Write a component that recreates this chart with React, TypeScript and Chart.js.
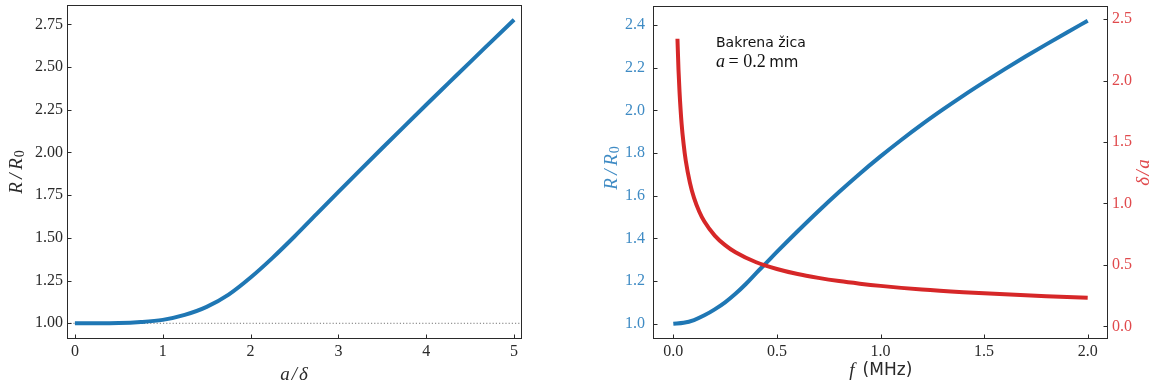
import React, { useEffect, useRef } from "react";
import { Chart, registerables } from "chart.js";

Chart.register(...registerables);

// ---------- Data ----------
// Left panel: R/R0 as a function of a/δ
const ratioAD = [0, 0.25, 0.5, 0.75, 1.0, 1.25, 1.5, 1.75, 2.0, 2.25, 2.5, 2.75, 3.0, 3.25, 3.5, 3.75, 4.0, 4.25, 4.5, 4.75, 5.0];
const resistanceVsRatio = [1.0, 1.0, 1.001, 1.007, 1.02, 1.049, 1.096, 1.168, 1.268, 1.383, 1.508, 1.639, 1.769, 1.898, 2.026, 2.153, 2.279, 2.404, 2.529, 2.653, 2.777];
const refLineX = [-0.09, 5.09];
const refLineY = [1, 1];

// Right panel: R/R0 (blue) and δ/a (red) as functions of f in MHz
const freqBlue = [0, 0.05, 0.1, 0.15, 0.2, 0.25, 0.3, 0.35, 0.4, 0.45, 0.5, 0.6, 0.7, 0.8, 0.9, 1.0, 1.1, 1.2, 1.3, 1.4, 1.5, 1.6, 1.7, 1.8, 1.9, 2.0];
const resistanceVsFreq = [1.0, 1.004, 1.017, 1.039, 1.067, 1.1, 1.14, 1.186, 1.237, 1.286, 1.336, 1.433, 1.527, 1.617, 1.703, 1.784, 1.861, 1.934, 2.003, 2.069, 2.132, 2.193, 2.252, 2.309, 2.365, 2.42];
const freqRed = [0.02, 0.025, 0.03, 0.04, 0.05, 0.06, 0.08, 0.1, 0.125, 0.15, 0.2, 0.25, 0.3, 0.4, 0.5, 0.6, 0.7, 0.8, 0.9, 1.0, 1.2, 1.4, 1.6, 1.8, 2.0];
const skinRatio = [2.34, 2.09, 1.91, 1.65, 1.48, 1.35, 1.17, 1.045, 0.935, 0.853, 0.739, 0.661, 0.603, 0.522, 0.467, 0.426, 0.395, 0.369, 0.348, 0.33, 0.301, 0.279, 0.261, 0.246, 0.233];

// Tick values
const leftXTicks = [0, 1, 2, 3, 4, 5];
const leftYTicks = [1.0, 1.25, 1.5, 1.75, 2.0, 2.25, 2.5, 2.75];
const rightXTicks = [0, 0.5, 1.0, 1.5, 2.0];
const rightY1Ticks = [1.0, 1.2, 1.4, 1.6, 1.8, 2.0, 2.2, 2.4];
const rightY2Ticks = [0, 0.5, 1.0, 1.5, 2.0, 2.5];

// Texts
const annotationLine1 = "Bakrena žica";
const annotationVar = "a";
const annotationEq = "=";
const annotationValue = "0.2";
const annotationUnit = "mm";

// ---------- Styles ----------
const BLUE = "#1f77b4";
const RED = "#d62728";
const BLUE_TEXT = "#3f8bc4";
const RED_TEXT = "#e0494c";
const DARK = "#2a2a2a";
const SERIF = '"Liberation Serif", "DejaVu Serif", serif';
const SANS = '"DejaVu Sans", sans-serif';
const TICK_FONT = { family: SERIF, size: 16 };
const ITAL = `italic 19px ${SERIF}`;
const SUB = `14px ${SERIF}`;

type Run = { text: string; font: string; gap?: number; dy?: number };
type TextItem = {
  x: number;
  y: number;
  color: string;
  rotate?: number;
  align?: "left" | "center";
  baseline?: CanvasTextBaseline;
  runs: Run[];
};

function makeOverlay(items: TextItem[]) {
  return {
    id: "overlay",
    afterDraw(chart: any) {
      const ctx: CanvasRenderingContext2D = chart.ctx;
      const a = chart.chartArea;
      const L = Math.round(a.left) + 0.5;
      const R = Math.round(a.right) - 0.5;
      const T = Math.round(a.top) + 0.5;
      const B = Math.round(a.bottom) - 0.5;
      ctx.save();
      ctx.strokeStyle = DARK;
      ctx.lineWidth = 1;
      ctx.strokeRect(L, T, R - L, B - T);
      const TL = 4;
      Object.keys(chart.scales).forEach((id) => {
        const s = chart.scales[id];
        s.ticks.forEach((t: any) => {
          const p = Math.round(s.getPixelForValue(t.value)) + 0.5;
          ctx.beginPath();
          if (s.position === "bottom") {
            ctx.moveTo(p, B);
            ctx.lineTo(p, B - TL);
          } else if (s.position === "left") {
            ctx.moveTo(L, p);
            ctx.lineTo(L + TL, p);
          } else if (s.position === "right") {
            ctx.moveTo(R, p);
            ctx.lineTo(R - TL, p);
          }
          ctx.stroke();
        });
      });
      items.forEach((it) => {
        ctx.save();
        ctx.translate(it.x, it.y);
        if (it.rotate) ctx.rotate(it.rotate);
        ctx.fillStyle = it.color;
        ctx.textBaseline = it.baseline || "middle";
        ctx.textAlign = "left";
        const widths = it.runs.map((r) => {
          ctx.font = r.font;
          return ctx.measureText(r.text).width;
        });
        const total = it.runs.reduce((s, r, i) => s + widths[i] + (r.gap || 0), 0);
        let x = it.align === "left" ? 0 : -total / 2;
        it.runs.forEach((r, i) => {
          ctx.font = r.font;
          x += r.gap || 0;
          ctx.fillText(r.text, x, r.dy || 0);
          x += widths[i];
        });
        ctx.restore();
      });
      ctx.restore();
    },
  };
}

function fixedTicks(values: number[]) {
  return (scale: any) => {
    scale.ticks = values.map((v) => ({ value: v }));
  };
}
function fixY(width: number) {
  return (s: any) => {
    s.width = width;
    s.paddingTop = 0;
    s.paddingBottom = 0;
  };
}
function fixX(height: number) {
  return (s: any) => {
    s.height = height;
    s.paddingLeft = 0;
    s.paddingRight = 0;
  };
}

const pts = (xs: number[], ys: number[]) => xs.map((x, i) => ({ x, y: ys[i] }));

const rRatioRuns = (): Run[] => [
  { text: "R", font: ITAL },
  { text: "/", font: ITAL, gap: 3.5 },
  { text: "R", font: ITAL, gap: 3.5 },
  { text: "0", font: SUB, gap: 1, dy: 4 },
];

export default function App() {
  const leftRef = useRef<HTMLCanvasElement>(null);
  const rightRef = useRef<HTMLCanvasElement>(null);

  useEffect(() => {
    const leftItems: TextItem[] = [
      { x: 16.5, y: 172, rotate: -Math.PI / 2, color: DARK, runs: rRatioRuns() },
      {
        x: 294, y: 375, color: DARK,
        runs: [
          { text: "a", font: ITAL },
          { text: "/", font: ITAL, gap: 2 },
          { text: "δ", font: ITAL, gap: 2 },
        ],
      },
    ];
    const left = new Chart(leftRef.current!, {
      type: "line",
      data: {
        datasets: [
          {
            data: pts(ratioAD, resistanceVsRatio),
            borderColor: BLUE,
            borderWidth: 4,
            pointRadius: 0,
            cubicInterpolationMode: "monotone",
            fill: false,
          },
          {
            data: pts(refLineX, refLineY),
            borderColor: "#777777",
            borderWidth: 1,
            borderDash: [1.2, 2],
            pointRadius: 0,
            fill: false,
          },
        ],
      },
      options: {
        animation: false,
        responsive: false,
        events: [],
        layout: { padding: { left: 0, top: 5, right: 38, bottom: 0 } },
        plugins: { legend: { display: false }, tooltip: { enabled: false } },
        scales: {
          x: {
            type: "linear",
            position: "bottom",
            min: -0.09,
            max: 5.09,
            afterBuildTicks: fixedTicks(leftXTicks),
            afterFit: fixX(46),
            grid: { display: false, drawTicks: false },
            border: { display: false },
            ticks: { font: TICK_FONT, color: DARK, padding: 3, maxRotation: 0, callback: (v: any) => String(v) },
          },
          y: {
            type: "linear",
            position: "left",
            min: 0.908,
            max: 2.863,
            afterBuildTicks: fixedTicks(leftYTicks),
            afterFit: fixY(67),
            grid: { display: false, drawTicks: false },
            border: { display: false },
            ticks: { font: TICK_FONT, color: DARK, padding: 4, callback: (v: any) => Number(v).toFixed(2) },
          },
        },
      },
      plugins: [makeOverlay(leftItems)],
    } as any);

    const rightItems: TextItem[] = [
      { x: 51.5, y: 168, rotate: -Math.PI / 2, color: BLUE_TEXT, runs: rRatioRuns() },
      {
        x: 584, y: 172.5, rotate: -Math.PI / 2, color: RED_TEXT,
        runs: [
          { text: "δ", font: ITAL },
          { text: "/", font: ITAL, gap: 1.5 },
          { text: "a", font: ITAL, gap: 1.5 },
        ],
      },
      {
        x: 320.8, y: 371, color: DARK,
        runs: [
          { text: "f", font: ITAL },
          { text: "(MHz)", font: `17px ${SANS}`, gap: 8 },
        ],
      },
      {
        x: 156, y: 46.7, color: "#111", align: "left", baseline: "alphabetic",
        runs: [{ text: annotationLine1, font: `14px ${SANS}` }],
      },
      {
        x: 156, y: 66.7, color: "#111", align: "left", baseline: "alphabetic",
        runs: [
          { text: annotationVar, font: `italic 18px ${SERIF}` },
          { text: annotationEq, font: `18px ${SERIF}`, gap: 3.5 },
          { text: annotationValue, font: `18px ${SERIF}`, gap: 4.5 },
          { text: annotationUnit, font: `15px ${SANS}`, gap: 3.5 },
        ],
      },
    ];

    const right = new Chart(rightRef.current!, {
      type: "line",
      data: {
        datasets: [
          {
            data: pts(freqRed, skinRatio),
            borderColor: RED,
            borderWidth: 4,
            pointRadius: 0,
            cubicInterpolationMode: "monotone",
            fill: false,
            yAxisID: "y2",
          },
          {
            data: pts(freqBlue, resistanceVsFreq),
            borderColor: BLUE,
            borderWidth: 4,
            pointRadius: 0,
            cubicInterpolationMode: "monotone",
            fill: false,
            yAxisID: "y",
          },
        ],
      },
      options: {
        animation: false,
        responsive: false,
        events: [],
        layout: { padding: { left: 0, top: 6, right: 0, bottom: 0 } },
        plugins: { legend: { display: false }, tooltip: { enabled: false } },
        scales: {
          x: {
            type: "linear",
            position: "bottom",
            min: -0.098,
            max: 2.098,
            afterBuildTicks: fixedTicks(rightXTicks),
            afterFit: fixX(46),
            grid: { display: false, drawTicks: false },
            border: { display: false },
            ticks: { font: TICK_FONT, color: DARK, padding: 3, maxRotation: 0, callback: (v: any) => Number(v).toFixed(1) },
          },
          y: {
            type: "linear",
            position: "left",
            min: 0.928,
            max: 2.489,
            afterBuildTicks: fixedTicks(rightY1Ticks),
            afterFit: fixY(93),
            grid: { display: false, drawTicks: false },
            border: { display: false },
            ticks: { font: TICK_FONT, color: BLUE_TEXT, padding: 8, callback: (v: any) => Number(v).toFixed(1) },
          },
          y2: {
            type: "linear",
            position: "right",
            min: -0.102,
            max: 2.606,
            afterBuildTicks: fixedTicks(rightY2Ticks),
            afterFit: fixY(43),
            grid: { display: false, drawTicks: false },
            border: { display: false },
            ticks: { font: TICK_FONT, color: RED_TEXT, padding: 4, callback: (v: any) => Number(v).toFixed(1) },
          },
        },
      },
      plugins: [makeOverlay(rightItems)],
    } as any);

    return () => {
      left.destroy();
      right.destroy();
    };
  }, []);

  return (
    <div style={{ position: "fixed", left: 0, top: 0, width: 1151, height: 385, background: "#fff" }}>
      <canvas ref={leftRef} width={560} height={385} style={{ position: "absolute", left: 0, top: 0 }} />
      <canvas ref={rightRef} width={591} height={385} style={{ position: "absolute", left: 560, top: 0 }} />
    </div>
  );
}
